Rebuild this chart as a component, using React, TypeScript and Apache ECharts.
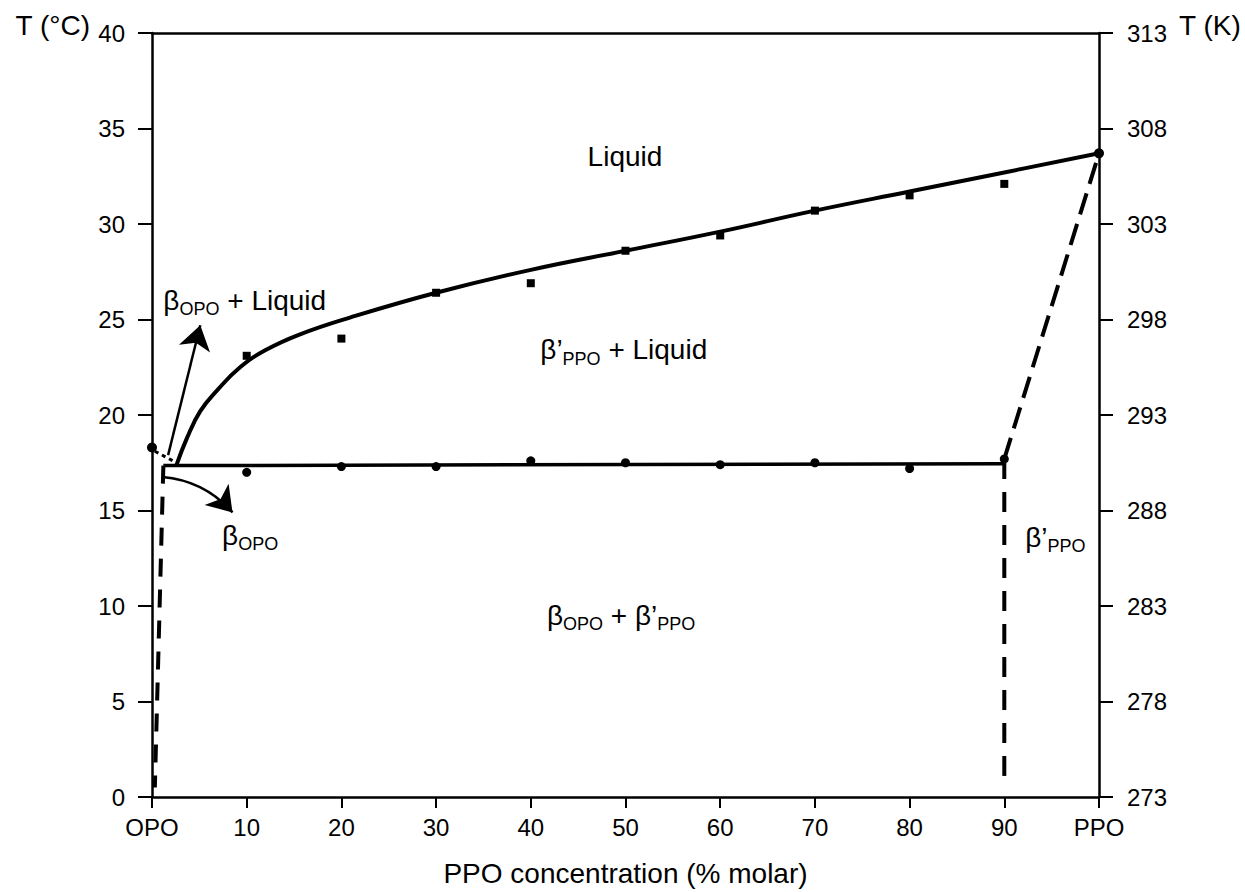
import React, { useEffect, useRef } from "react";
import * as echarts from "echarts";

// ---- data ----
const xTickValues = [0, 10, 20, 30, 40, 50, 60, 70, 80, 90, 100];
const xTickLabels = ["OPO", "10", "20", "30", "40", "50", "60", "70", "80", "90", "PPO"];
const kelvinOffset = 273;

// experimental liquidus points (squares)
const liquidusExpX = [10, 20, 30, 40, 50, 60, 70, 80, 90];
const liquidusExpT = [23.1, 24.0, 26.4, 26.9, 28.6, 29.4, 30.7, 31.5, 32.1];

// experimental eutectic points (circles)
const eutecticExpX = [10, 20, 30, 40, 50, 60, 70, 80, 90];
const eutecticExpT = [17.0, 17.3, 17.3, 17.6, 17.5, 17.4, 17.5, 17.2, 17.7];

// pure component melting points
const pureMeltX = [0, 100];
const pureMeltT = [18.3, 33.7];

// fitted liquidus curve
const liquidusCurveX = [2.6, 3.7, 5.1, 6.9, 9.3, 12.0, 15.5, 20.9, 30, 40, 50, 60, 70, 80, 90, 100];
const liquidusCurveT = [17.4, 18.8, 20.2, 21.3, 22.5, 23.4, 24.2, 25.1, 26.4, 27.6, 28.6, 29.6, 30.7, 31.7, 32.7, 33.7];

// eutectic horizontal
const eutecticLineX = [1.2, 90];
const eutecticLineT = [17.35, 17.45];

// dashed boundaries
const solvusLeftX = [1.2, 0.3];
const solvusLeftT = [17.35, 0.5];
const solvusRightX = [90, 90];
const solvusRightT = [17.7, 0.5];
const ppoBoundaryX = [90, 100];
const ppoBoundaryT = [17.7, 33.7];
const opoTieX = [0.3, 2.2];
const opoTieT = [18.1, 17.6];

// region labels (left edge x, centre T)
const regionLabelText = [
  "{m|Liquid}",
  "{m|β}{s|OPO}{m| + Liquid}",
  "{m|β’}{s|PPO}{m| + Liquid}",
  "{m|β}{s|OPO}",
  "{m|β}{s|OPO}{m| + β’}{s|PPO}",
  "{m|β’}{s|PPO}",
];
const regionLabelX = [46.0, 1.2, 41.0, 7.4, 41.7, 92.2];
const regionLabelT = [33.45, 25.9, 23.3, 13.6, 9.4, 13.5];

// arrows: straight one to the βOPO + Liquid label, curved one to the βOPO label
const arrowFromX = [1.7, 1.1];
const arrowFromT = [17.9, 16.75];
const arrowToX = [5.1, 8.5];
const arrowToT = [24.7, 14.9];
const arrowCurveness = [0, 0.2];

const zip = (xs: number[], ys: number[]) => xs.map((x, i) => [x, ys[i]]);

const FONT = "'Liberation Sans', Arial, Helvetica, sans-serif";
const INK = "#000";

export default function App() {
  const ref = useRef<HTMLDivElement>(null);

  useEffect(() => {
    if (!ref.current) return;
    const chart = echarts.init(ref.current, undefined, { renderer: "svg" });

    const lineSeries = (name: string, xs: number[], ys: number[], width: number, type: any, smooth: any = false) => ({
      name,
      type: "line",
      data: zip(xs, ys),
      showSymbol: false,
      symbol: "none",
      smooth,
      silent: true,
      lineStyle: { color: INK, width, type, cap: "butt" },
      z: 3,
    });

    const option: any = {
      animation: false,
      backgroundColor: "#fff",
      textStyle: { fontFamily: FONT },
      grid: { left: 152, right: 146, top: 33, bottom: 93 },
      xAxis: [
        {
          type: "value",
          min: 0,
          max: 100,
          interval: 10,
          name: "PPO concentration (% molar)",
          nameLocation: "middle",
          nameGap: 62,
          nameTextStyle: { fontSize: 28, color: INK, fontFamily: FONT },
          axisLine: { show: true, onZero: false, lineStyle: { color: INK, width: 2.5 } },
          axisTick: { show: true, inside: false, length: 11, lineStyle: { color: INK, width: 2 } },
          axisLabel: {
            fontSize: 24,
            color: INK,
            margin: 18,
            fontFamily: FONT,
            formatter: (v: number) => {
              const i = xTickValues.indexOf(v);
              return i >= 0 ? xTickLabels[i] : "";
            },
          },
          splitLine: { show: false },
        },
        {
          type: "value",
          position: "top",
          min: 0,
          max: 100,
          axisLine: { show: true, onZero: false, lineStyle: { color: INK, width: 2.5 } },
          axisTick: { show: false },
          axisLabel: { show: false },
          splitLine: { show: false },
        },
      ],
      yAxis: [
        {
          type: "value",
          min: 0,
          max: 40,
          interval: 5,
          position: "left",
          name: "T (°C)",
          nameLocation: "end",
          nameGap: 8,
          nameTextStyle: {
            fontSize: 28,
            color: INK,
            fontFamily: FONT,
            align: "right",
            verticalAlign: "middle",
            padding: [0, 62, 0, 0],
          },
          axisLine: { show: true, onZero: false, lineStyle: { color: INK, width: 2.5 } },
          axisTick: { show: true, inside: false, length: 14, lineStyle: { color: INK, width: 2 } },
          axisLabel: { fontSize: 24, color: INK, margin: 27, fontFamily: FONT },
          splitLine: { show: false },
        },
        {
          type: "value",
          min: 0,
          max: 40,
          interval: 5,
          position: "right",
          name: "T (K)",
          nameLocation: "end",
          nameGap: 8,
          nameTextStyle: {
            fontSize: 28,
            color: INK,
            fontFamily: FONT,
            align: "left",
            verticalAlign: "middle",
            padding: [0, 0, 0, 80],
          },
          axisLine: { show: true, onZero: false, lineStyle: { color: INK, width: 2.5 } },
          axisTick: { show: true, inside: false, length: 14, lineStyle: { color: INK, width: 2 } },
          axisLabel: {
            fontSize: 24,
            color: INK,
            margin: 28,
            fontFamily: FONT,
            formatter: (v: number) => String(v + kelvinOffset),
          },
          splitLine: { show: false },
        },
      ],
      series: [
        lineSeries("liquidus", liquidusCurveX, liquidusCurveT, 4, "solid", 0.45),
        lineSeries("eutectic", eutecticLineX, eutecticLineT, 3.5, "solid"),
        lineSeries("solvusLeft", solvusLeftX, solvusLeftT, 4, [18, 13]),
        lineSeries("solvusRight", solvusRightX, solvusRightT, 4, [20, 13]),
        lineSeries("ppoBoundary", ppoBoundaryX, ppoBoundaryT, 4, [22, 10]),
        lineSeries("opoTie", opoTieX, opoTieT, 3, [4, 4]),
        {
          name: "arrows",
          type: "lines",
          coordinateSystem: "cartesian2d",
          silent: true,
          symbol: ["none", "arrow"],
          symbolSize: [18, 24],
          effect: { show: false },
          lineStyle: { color: INK, width: 2.5, opacity: 1, type: "solid" },
          data: arrowFromX.map((x, i) => ({
            coords: [
              [x, arrowFromT[i]],
              [arrowToX[i], arrowToT[i]],
            ],
            lineStyle: { curveness: arrowCurveness[i] },
          })),
          z: 4,
        },
        {
          name: "liquidusExp",
          type: "scatter",
          data: zip(liquidusExpX, liquidusExpT),
          symbol: "rect",
          symbolSize: 8,
          itemStyle: { color: INK, opacity: 1 },
          silent: true,
          z: 4,
        },
        {
          name: "eutecticExp",
          type: "scatter",
          data: zip(eutecticExpX, eutecticExpT),
          symbol: "circle",
          symbolSize: 9,
          itemStyle: { color: INK, opacity: 1 },
          silent: true,
          z: 4,
        },
        {
          name: "pureMelt",
          type: "scatter",
          data: zip(pureMeltX, pureMeltT),
          symbol: "circle",
          symbolSize: 10,
          itemStyle: { color: INK, opacity: 1 },
          silent: true,
          z: 4,
        },
        {
          name: "labels",
          type: "scatter",
          symbolSize: 0,
          silent: true,
          itemStyle: { opacity: 1 },
          data: regionLabelText.map((t, i) => ({ value: [regionLabelX[i], regionLabelT[i]], name: t })),
          label: {
            show: true,
            position: "right",
            distance: 0,
            color: INK,
            opacity: 1,
            formatter: (p: any) => p.name,
            rich: {
              m: { fontSize: 28, color: INK, fontFamily: FONT, verticalAlign: "bottom", padding: [0, 0, 4, 0] },
              s: { fontSize: 18, color: INK, fontFamily: FONT, verticalAlign: "bottom" },
            },
          },
          z: 5,
        },
      ],
    };

    chart.setOption(option);
    return () => chart.dispose();
  }, []);

  return (
    <div
      ref={ref}
      style={{ position: "fixed", left: 0, top: 0, width: 1245, height: 892, background: "#fff" }}
    />
  );
}
